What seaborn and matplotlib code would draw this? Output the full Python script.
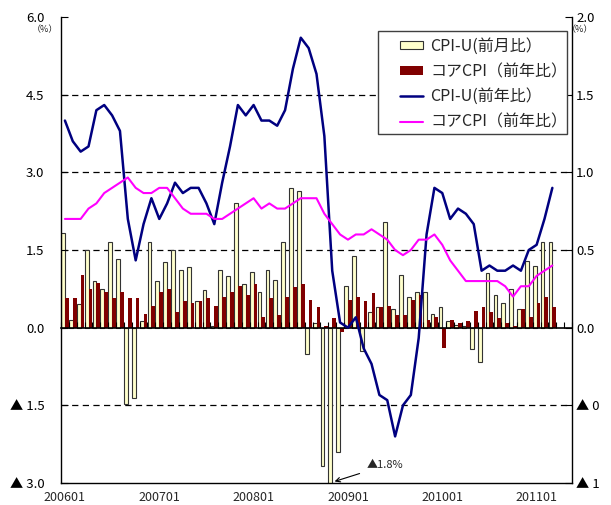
import numpy as np
import pandas as pd
import matplotlib
matplotlib.use('Agg')
import matplotlib.pyplot as plt
import seaborn as sns
from matplotlib.patches import Patch, Rectangle
from matplotlib.lines import Line2D

# categories: 200601 - 201105 (data through 201103)
months = [f'{y}{m:02d}' for y in range(2006, 2012) for m in range(1, 13)][:65]
tick_labels = ['200601', '200701', '200801', '200901', '201001', '201101']

# CPI-U yoy (%), left axis
cpi_yoy = [4.0, 3.6, 3.4, 3.5, 4.2, 4.3, 4.1, 3.8, 2.1, 1.3, 2.0, 2.5,
           2.1, 2.4, 2.8, 2.6, 2.7, 2.7, 2.4, 2.0, 2.8, 3.5, 4.3, 4.1,
           4.3, 4.0, 4.0, 3.9, 4.2, 5.0, 5.6, 5.4, 4.9, 3.7, 1.1, 0.1,
           0.0, 0.2, -0.4, -0.7, -1.3, -1.4, -2.1, -1.5, -1.3, -0.2, 1.8, 2.7,
           2.6, 2.1, 2.3, 2.2, 2.0, 1.1, 1.2, 1.1, 1.1, 1.2, 1.1, 1.5,
           1.6, 2.1, 2.7]

# core CPI yoy (%), left axis
core_yoy = [2.1, 2.1, 2.1, 2.3, 2.4, 2.6, 2.7, 2.8, 2.9, 2.7, 2.6, 2.6,
            2.7, 2.7, 2.5, 2.3, 2.2, 2.2, 2.2, 2.1, 2.1, 2.2, 2.3, 2.4,
            2.5, 2.3, 2.4, 2.3, 2.3, 2.4, 2.5, 2.5, 2.5, 2.2, 2.0, 1.8,
            1.7, 1.8, 1.8, 1.9, 1.8, 1.7, 1.5, 1.4, 1.5, 1.7, 1.7, 1.8,
            1.6, 1.3, 1.1, 0.9, 0.9, 0.9, 0.9, 0.9, 0.8, 0.6, 0.8, 0.8,
            1.0, 1.1, 1.2]

# CPI-U mom (%), right axis
cpi_mom = [0.61, 0.05, 0.15, 0.50, 0.30, 0.25, 0.55, 0.44, -0.49, -0.45, 0.04, 0.55,
           0.30, 0.42, 0.50, 0.37, 0.39, 0.17, 0.24, 0.01, 0.37, 0.33, 0.80, 0.28,
           0.36, 0.23, 0.37, 0.31, 0.55, 0.90, 0.88, -0.17, 0.03, -0.89, -1.80, -0.80,
           0.27, 0.46, -0.15, 0.10, 0.13, 0.68, 0.12, 0.34, 0.20, 0.23, 0.23, 0.09,
           0.13, 0.04, 0.02, 0.01, -0.14, -0.22, 0.35, 0.21, 0.16, 0.25, 0.12, 0.43,
           0.40, 0.55, 0.55]

# core CPI mom (%), right axis
core_mom = [0.19, 0.19, 0.34, 0.25, 0.29, 0.23, 0.19, 0.23, 0.19, 0.19, 0.09, 0.14,
            0.23, 0.25, 0.10, 0.17, 0.16, 0.17, 0.19, 0.14, 0.20, 0.23, 0.27, 0.21,
            0.28, 0.07, 0.19, 0.08, 0.20, 0.26, 0.28, 0.18, 0.13, 0.01, 0.06, -0.03,
            0.18, 0.20, 0.17, 0.22, 0.13, 0.14, 0.08, 0.08, 0.18, 0.21, 0.05, 0.07,
            -0.13, 0.05, 0.03, 0.04, 0.11, 0.13, 0.10, 0.06, 0.03, 0.01, 0.12, 0.07,
            0.16, 0.20, 0.13]

labels = ['CPI-U(前月比）', 'コアCPI（前年比）', 'CPI-U(前年比）', 'コアCPI（前年比）']

sns.set_style('white')
plt.rcParams['font.family'] = ['Noto Sans CJK JP', 'DejaVu Sans']

n = len(cpi_yoy)
bars = pd.DataFrame({
    'month': months[:n] * 2,
    'value': cpi_mom + core_mom,
    'series': ['cpi'] * n + ['core'] * n,
})

fig = plt.figure(figsize=(6.11, 5.05), dpi=100)
ax = fig.add_axes([61 / 611, 22 / 505, 511 / 611, 466 / 505])
ax2 = ax.twinx()
ax.set_zorder(ax2.get_zorder() + 1)
ax.patch.set_visible(False)

# dashed grid behind the bars
for y in [-0.5, 0.5, 1.0, 1.5]:
    ax2.axhline(y, color='black', lw=0.9, ls=(0, (5, 3.5)), zorder=0)

sns.barplot(data=bars, x='month', y='value', hue='series', order=months,
            hue_order=['cpi', 'core'], palette={'cpi': '#FFFFCC', 'core': '#800000'},
            width=0.96, saturation=1, legend=False, ax=ax2)
for b in ax2.containers[0]:
    b.set_edgecolor('#333333')
    b.set_linewidth(0.8)
for b in ax2.containers[1]:
    b.set_edgecolor('none')

sns.lineplot(x=np.arange(n), y=cpi_yoy, ax=ax, color='#000080', lw=1.8)
sns.lineplot(x=np.arange(n), y=core_yoy, ax=ax, color='#FF00FF', lw=1.5)

# axes
ax.set_ylim(-3, 6)
ax.set_yticks([-3, -1.5, 0, 1.5, 3, 4.5, 6])
ax.set_yticklabels(['▲ 3.0', '▲ 1.5', '0.0', '1.5', '3.0', '4.5', '6.0'])
ax2.set_ylim(-1, 2)
ax2.set_yticks([-1, -0.5, 0, 0.5, 1, 1.5, 2])
ax2.set_yticklabels(['▲ 1', '▲ 0', '0.0', '0.5', '1.0', '1.5', '2.0'])
ax2.set_ylabel('')
ax.set_xlim(-0.5, 64.5)
ax.set_xticks([0, 12, 24, 36, 48, 60])
ax.set_xticklabels(tick_labels)
ax.set_xlabel('')

ax.tick_params(axis='y', direction='in', length=5, pad=12, labelsize=9.5, colors='black')
ax2.tick_params(axis='y', direction='in', length=5, pad=3, labelsize=9.5, colors='black')
ax.tick_params(axis='x', length=0, pad=6, labelsize=9)

for s in ['top', 'right']:
    ax.spines[s].set_visible(False)
for s in ['top', 'left', 'bottom']:
    ax2.spines[s].set_visible(False)
for s in ['left', 'bottom']:
    ax.spines[s].set_color('black')
    ax.spines[s].set_linewidth(1.0)
ax2.spines['right'].set_color('black')
ax2.spines['right'].set_linewidth(1.0)

# zero line with category ticks
zero = ax.secondary_xaxis(1 / 3)
zero.set_xticks(np.arange(-0.5, 65, 1))
zero.set_xticklabels([])
zero.tick_params(axis='x', direction='in', length=4, width=0.8, colors='black')
for s in zero.spines.values():
    s.set_linewidth(1.2)
    s.set_color('black')

ax2.annotate('▲1.8%', xy=(34.3, -0.99), xytext=(38.4, -0.887),
             fontsize=8, ha='left', va='center',
             arrowprops=dict(arrowstyle='->', color='black', lw=0.8, shrinkA=3, shrinkB=0))

fig.text(45 / 611, 1 - 30 / 505, '（%）', ha='center', va='center', fontsize=6.5)
fig.text(580 / 611, 1 - 30 / 505, '（%）', ha='center', va='center', fontsize=6.5)

# legend box (Excel style, wider than the entries)
ax.add_patch(Rectangle((378 / 611, 1 - 134 / 505), 189 / 611, 103 / 505,
                       transform=fig.transFigure, facecolor='white',
                       edgecolor='#404040', lw=1.0, zorder=4, clip_on=False))
handles = [Patch(facecolor='#FFFFCC', edgecolor='#333333', lw=0.8),
           Patch(facecolor='#800000', edgecolor='none'),
           Line2D([], [], color='#000080', lw=1.8),
           Line2D([], [], color='#FF00FF', lw=1.5)]
leg = ax.legend(handles, labels, loc='upper left', bbox_to_anchor=(0.6575, 0.9625),
                frameon=False, fontsize=11.5, handlelength=1.45, handleheight=0.45,
                labelspacing=0.52, borderpad=0.2, handletextpad=0.45, borderaxespad=0)
leg.set_zorder(5)

fig.savefig('out.png', dpi=100, facecolor='white')
